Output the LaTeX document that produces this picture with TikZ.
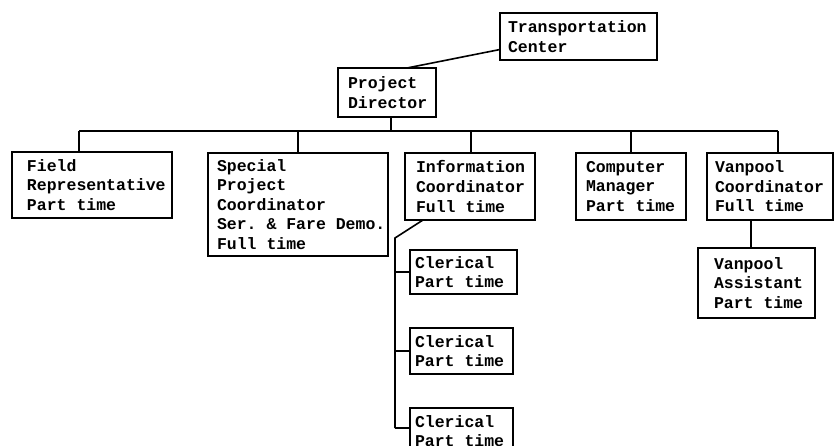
\documentclass[tikz,border=0pt]{standalone}
\usepackage{fontspec}
\newfontfamily\typewriter{Liberation Mono}
\newcommand\orgfont{\typewriter\bfseries\fontsize{16.5}{19.6}\selectfont}
\begin{document}
\begin{tikzpicture}[x=1pt,y=-1pt,
  orgbox/.style={draw, line width=1.6pt, anchor=north west, align=left,
    outer sep=0pt, inner ysep=0pt, font=\orgfont,
    % typewriter lettering: every space is one full character cell
    execute at begin node={\spaceskip=0.6em\relax\xspaceskip=0.6em\relax}},
  link/.style={line width=1.6pt}]
\clip (0,0) rectangle (835,446);
\fill[white] (0,0) rectangle (835,446);

% boxes: position is the top-left corner
\node[orgbox, inner xsep=8pt,  text width=141pt, minimum height=47pt]  (tc)      at (500,13)  {Transportation\\Center};
\node[orgbox, inner xsep=10pt, text width=78pt,  minimum height=49pt]  (pd)      at (338,68)  {Project\\Director};
\node[orgbox, inner xsep=15pt, text width=130pt, minimum height=66pt]  (field)   at (12,152)  {Field\\Representative\\Part~time};
\node[orgbox, inner xsep=9pt,  text width=162pt, minimum height=103pt] (special) at (208,153) {Special\\Project\\Coordinator\\Ser.~\&~Fare~Demo.\\Full~time};
\node[orgbox, inner xsep=11pt, text width=108pt, minimum height=67pt]  (info)    at (405,153) {Information\\Coordinator\\Full~time};
\node[orgbox, inner xsep=10pt, text width=90pt,  minimum height=67pt]  (comp)    at (576,153) {Computer\\Manager\\Part~time};
\node[orgbox, inner xsep=8pt,  text width=110pt, minimum height=67pt]  (van)     at (707,153) {Vanpool\\Coordinator\\Full~time};
\node[orgbox, inner xsep=16pt, text width=85pt,  minimum height=70pt]  (va)      at (698,248) {Vanpool\\Assistant\\Part~time};
\node[orgbox, inner xsep=5pt,  text width=97pt,  minimum height=44pt]  (cl1)     at (410,250) {Clerical\\Part~time};
\node[orgbox, inner xsep=5pt,  text width=93pt,  minimum height=46pt]  (cl2)     at (410,328) {Clerical\\Part~time};
\node[orgbox, inner xsep=5pt,  text width=93pt,  minimum height=46pt]  (cl3)     at (410,408) {Clerical\\Part~time};

% top link
\draw[link] ([xshift=20pt]pd.north) -- ([yshift=-13pt]tc.west);

% main bus under the director
\coordinate (busL) at (79,131);
\coordinate (busR) at (778,131);
\draw[link] ([xshift=4pt]pd.south) -- ([xshift=4pt]pd.south |- busL);
\draw[link] (busL) -- (busR);
\draw[link] ([xshift=-13pt]field.north) -- ([xshift=-13pt]field.north |- busL);
\draw[link] (special.north) -- (special.north |- busL);
\draw[link] ([xshift=1pt]info.north) -- ([xshift=1pt]info.north |- busL);
\draw[link] (comp.north) -- (comp.north |- busL);
\draw[link] ([xshift=8pt]van.north) -- ([xshift=8pt]van.north |- busL);

% vanpool assistant
\draw[link] ([xshift=-19pt]van.south) -- ([xshift=-19pt]van.south |- va.north);

% clerical branch
\coordinate (cbus) at (395,238);
\draw[link] ([xshift=-47pt]info.south) -- (cbus) -- (cbus |- 0,428);
\draw[link] (cl1.west) -- (cl1.west -| cbus);
\draw[link] (cl2.west) -- (cl2.west -| cbus);
\draw[link] (cl3.west |- 0,428) -- (cbus |- 0,428);
\end{tikzpicture}
\end{document}
